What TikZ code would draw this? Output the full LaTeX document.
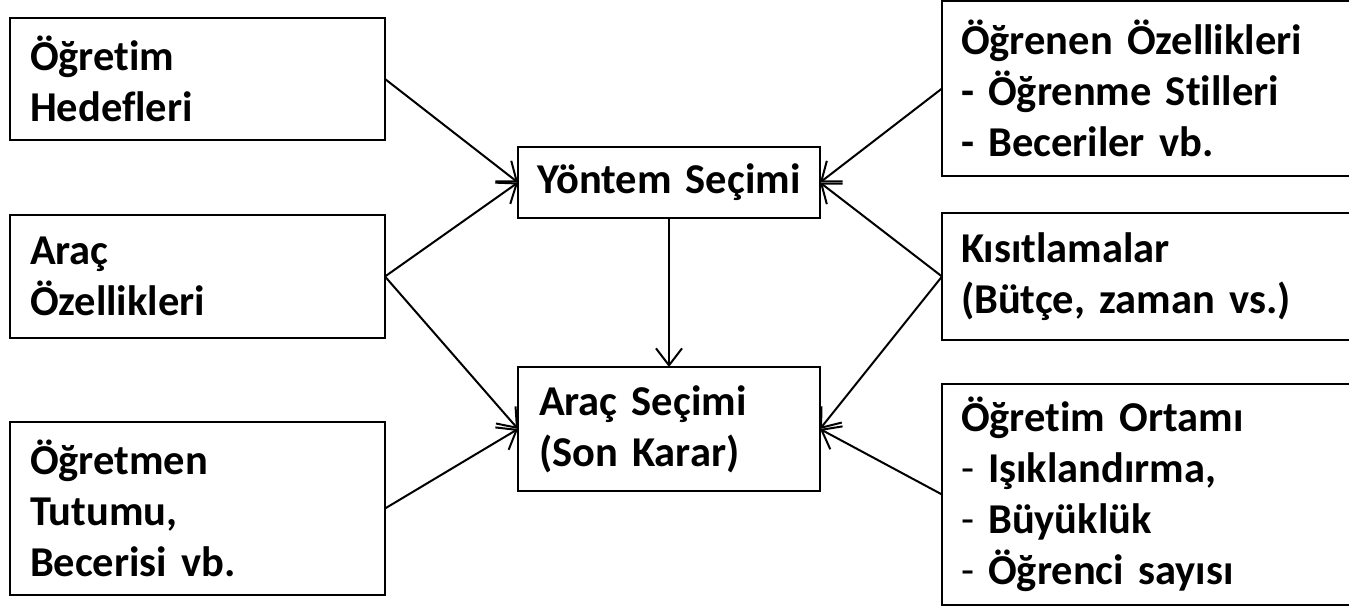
\documentclass[tikz,border=0pt]{standalone}
\usepackage{fontspec}
\setmainfont{Carlito}[Ligatures=NoCommon, WordSpace=0.9]
\usetikzlibrary{arrows.meta}
\tikzset{
  box/.style={draw=black, line width=2.2pt, anchor=north west, inner xsep=19pt, inner ysep=0pt, outer sep=0pt, align=left, font=\fontsize{42.5}{51}\selectfont\bfseries},
  conn/.style={line width=2pt, -{Straight Barb[length=17pt,width=26pt,line width=2pt]}}
}
\begin{document}
\begin{tikzpicture}[x=1pt,y=-1pt]
\clip (0,0) rectangle (1349,613);
\fill[white] (0,0) rectangle (1349,613);
% left column
\node[box, inner xsep=20pt, text width=335pt, minimum height=122pt] (hed) at (10,18) {Öğretim\\Hedefleri};
\node[box, inner xsep=20pt, text width=335pt, minimum height=123pt] (arc) at (10,215) {Araç\\Özellikleri};
\node[box, inner xsep=20pt, text width=335pt, minimum height=173pt] (ogt) at (10,422) {Öğretmen\\Tutumu,\\Becerisi vb.};
% middle
\node[box, inner xsep=6pt, text width=290pt, minimum height=71pt, align=center] (yon) at (518,147) {Yöntem Seçimi};
\node[box, inner xsep=21pt, text width=260pt, minimum height=124pt] (sec) at (518,367) {Araç Seçimi\\(Son Karar)};
% right column
\node[box, inner xsep=19pt, text width=400pt, minimum height=175pt] (ogr) at (942,1) {Öğrenen Özellikleri\\- Öğrenme Stilleri\\- Beceriler vb.};
\node[box, inner xsep=19pt, text width=400pt, minimum height=127pt] (kis) at (942,213) {Kısıtlamalar\\(Bütçe, zaman vs.)};
\node[box, inner xsep=19pt, text width=400pt, minimum height=221pt] (ort) at (942,384) {Öğretim Ortamı\\{\mdseries -} Işıklandırma,\\{\mdseries -} Büyüklük\\{\mdseries -} Öğrenci sayısı};
% connectors
\draw[conn] (hed.east) -- (yon.west);
\draw[conn] (arc.east) -- (yon.west);
\draw[conn] (arc.east) -- (sec.west);
\draw[conn] (ogt.east) -- (sec.west);
\draw[conn] (ogr.west) -- (yon.east);
\draw[conn] (kis.west) -- (yon.east);
\draw[conn] (kis.west) -- (sec.east);
\draw[conn] (ort.west) -- (sec.east);
\draw[conn] (yon.south) -- (sec.north);
\end{tikzpicture}
\end{document}
